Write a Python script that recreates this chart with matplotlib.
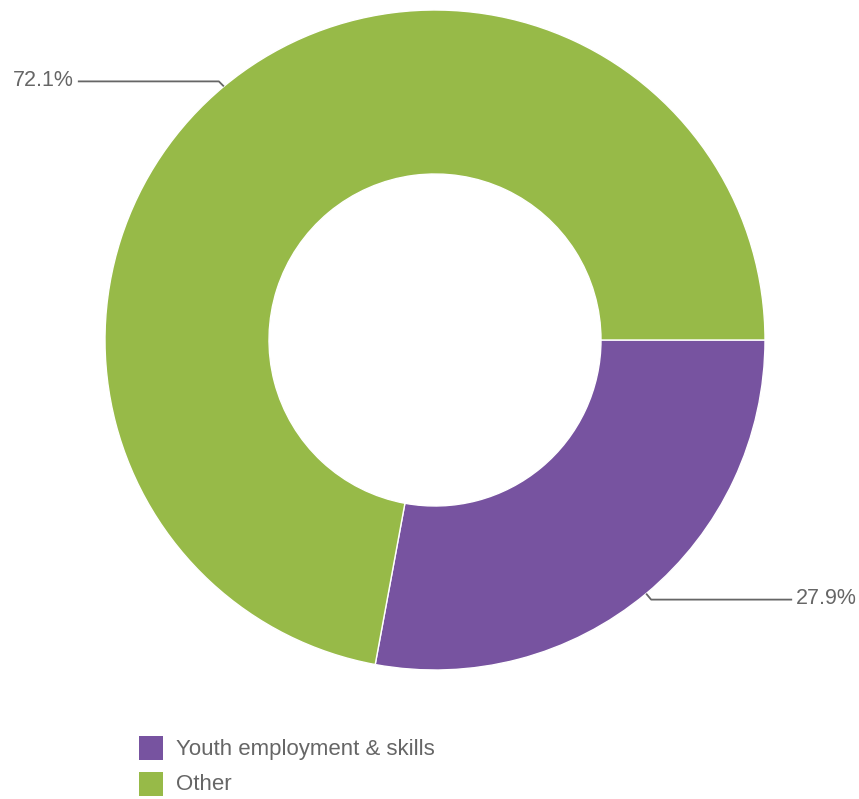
import numpy as np
import matplotlib
matplotlib.use("Agg")
from matplotlib import pyplot as plt
from matplotlib.patches import Rectangle

labels = ["Youth employment & skills", "Other"]
values = [27.9, 72.1]
colors = ["#7753a0", "#97ba48"]

W, H = 859, 799
CX, CY = 435, 340
R_OUT, R_IN = 330, 166
TEXT_GREY = "#666666"


def py(y):
    # screen-style y (down) to data y (up)
    return H - y


fig = plt.figure(figsize=(W / 100, H / 100), dpi=100)
ax = fig.add_axes([0, 0, 1, 1])

wedges, _ = ax.pie(
    values,
    colors=colors,
    startangle=0,
    counterclock=False,
    radius=R_OUT,
    center=(CX, py(CY)),
    wedgeprops=dict(width=R_OUT - R_IN, edgecolor="white", linewidth=1),
)

# pie() resets the limits, so set the pixel frame afterwards
ax.set_xlim(0, W)
ax.set_ylim(0, H)
ax.set_aspect("equal")
ax.axis("off")

# leader lines + percentage labels at each wedge's mid-angle
for w, v in zip(wedges, values):
    mid = np.deg2rad((w.theta1 + w.theta2) / 2)
    ax_x = CX + R_OUT * np.cos(mid)
    ax_y = py(CY) + R_OUT * np.sin(mid)
    side = 1 if np.cos(mid) > 0 else -1
    kx = ax_x + side * 5
    ky = ax_y + (5 if np.sin(mid) > 0 else -6)
    ex = kx + side * 141
    ax.plot([ax_x, kx, ex], [ax_y, ky, ky], color=TEXT_GREY, lw=1.3,
            solid_capstyle="butt")
    ax.text(ex + side * 4, ky + 1, f"{v}%", ha="left" if side > 0 else "right",
            va="center", fontsize=15.5, color=TEXT_GREY,
            family="Liberation Sans")

# legend
for i, (lab, c) in enumerate(zip(labels, colors)):
    top = 736 + i * 36
    ax.add_patch(Rectangle((139, py(top + 24)), 24, 24, facecolor=c,
                           edgecolor="none"))
    ax.text(176, py(top + 13), lab, ha="left", va="center", fontsize=16,
            color=TEXT_GREY, family="Liberation Sans")

fig.savefig("out.png", dpi=100)
